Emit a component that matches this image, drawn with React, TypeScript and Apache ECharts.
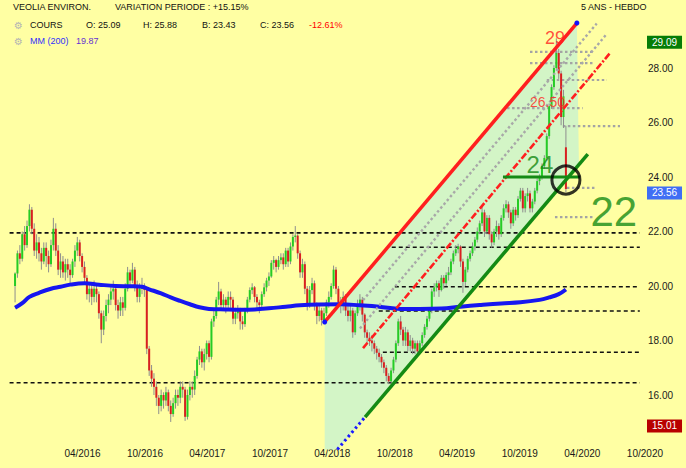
import React, { useEffect, useRef } from 'react';
import * as echarts from 'echarts';

const DAY = 86400000;
const WEEK = 7 * DAY;
const t = (s: string) => Date.parse(s + 'T00:00:00Z');

const FIRST_WEEK = t('2015-09-17');
const X_MIN = t('2015-08-04');
const X_MAX = t('2020-10-07');

// weekly candles: [open, close, low, high]
const OHLC: number[][] = [
  [20.0, 20.46, 19.4, 20.5], [20.46, 21.2, 20.3, 21.3], [21.2, 21.0, 20.8, 21.5], [21.0, 21.9, 20.9, 22.0],
  [21.9, 21.5, 21.3, 22.2], [21.5, 22.2, 21.4, 22.4], [22.2, 22.8, 22.0, 23.0], [22.8, 22.1, 21.9, 22.9],
  [22.1, 21.3, 21.1, 22.3], [21.3, 21.6, 21.0, 21.9], [21.6, 21.2, 20.9, 21.8], [21.2, 20.9, 20.6, 21.4],
  [20.9, 21.4, 20.8, 21.6], [21.4, 21.1, 20.7, 21.6], [21.1, 20.8, 20.5, 21.3], [20.8, 21.5, 20.7, 21.7],
  [21.5, 22.1, 21.3, 22.5], [22.1, 21.3, 21.1, 22.3], [21.3, 20.6, 20.4, 21.5], [20.6, 20.9, 20.3, 21.2],
  [20.9, 20.5, 20.3, 21.1], [20.5, 20.8, 20.2, 21.0], [20.8, 20.6, 20.3, 21.0], [20.6, 20.4, 20.1, 20.8],
  [20.4, 20.9, 20.3, 21.0], [20.9, 21.3, 20.7, 21.5], [21.3, 21.6, 21.1, 21.8], [21.6, 21.1, 20.9, 21.7],
  [21.1, 20.7, 20.5, 21.2], [20.7, 20.3, 20.1, 20.9], [20.3, 19.7, 19.5, 20.4], [19.7, 19.9, 19.4, 20.1],
  [19.9, 19.6, 19.3, 20.1], [19.6, 19.9, 19.4, 20.2], [19.9, 19.7, 19.4, 20.1], [19.7, 19.0, 18.8, 19.8],
  [19.0, 18.4, 17.9, 19.1], [18.4, 18.9, 18.2, 19.1], [18.9, 19.3, 18.7, 19.5], [19.3, 19.5, 19.0, 19.7],
  [19.5, 19.8, 19.3, 20.0], [19.8, 19.9, 19.5, 20.2], [19.9, 19.3, 19.1, 20.0], [19.3, 19.1, 18.8, 19.5],
  [19.1, 19.4, 18.9, 19.6], [19.4, 19.2, 18.9, 19.6], [19.2, 19.9, 19.1, 20.1], [19.9, 20.5, 19.8, 20.7],
  [20.5, 20.2, 20.0, 20.6], [20.2, 20.6, 20.1, 20.85], [20.6, 20.0, 19.8, 20.7], [20.0, 19.6, 19.4, 20.2],
  [19.6, 19.9, 19.4, 20.1], [19.9, 20.0, 19.7, 20.3], [20.0, 19.85, 19.6, 20.1], [19.85, 17.7, 17.5, 19.95],
  [17.7, 16.9, 16.7, 17.8], [16.9, 16.6, 16.3, 17.1], [16.6, 16.3, 16.0, 16.8], [16.3, 15.9, 15.6, 16.5],
  [15.9, 15.6, 15.3, 16.0], [15.6, 16.0, 15.4, 16.2], [16.0, 15.8, 15.5, 16.1], [15.8, 16.1, 15.6, 16.3],
  [16.1, 15.6, 15.4, 16.2], [15.6, 15.3, 15.01, 15.8], [15.3, 15.7, 15.2, 15.9], [15.7, 16.0, 15.5, 16.2],
  [16.0, 15.9, 15.6, 16.2], [15.9, 16.3, 15.7, 16.5], [16.3, 16.2, 15.9, 16.5], [16.2, 15.2, 15.05, 16.3],
  [15.2, 16.0, 15.1, 16.2], [16.0, 16.3, 15.8, 16.5], [16.3, 16.2, 15.9, 16.5], [16.2, 16.7, 16.0, 16.9],
  [16.7, 17.3, 16.6, 17.4], [17.3, 17.6, 17.1, 17.8], [17.6, 17.2, 17.0, 17.7], [17.2, 17.5, 16.9, 17.7],
  [17.5, 17.9, 17.3, 18.0], [17.9, 17.4, 17.2, 18.0], [17.4, 18.7, 17.3, 18.8], [18.7, 18.9, 18.5, 19.1],
  [18.9, 19.5, 18.8, 19.6], [19.5, 19.8, 19.3, 20.15], [19.8, 19.3, 19.1, 19.9], [19.3, 19.5, 19.1, 19.7],
  [19.5, 19.3, 19.0, 19.6], [19.3, 19.6, 19.1, 19.8], [19.6, 19.5, 19.2, 19.8], [19.5, 18.8, 18.6, 19.6],
  [18.8, 19.0, 18.6, 19.2], [19.0, 19.1, 18.8, 19.3], [19.1, 18.7, 18.4, 19.2], [18.7, 18.6, 18.4, 18.9],
  [18.6, 19.1, 18.5, 19.2], [19.1, 19.5, 19.0, 19.6], [19.5, 19.85, 19.4, 19.95], [19.85, 19.95, 19.7, 20.1],
  [19.95, 19.6, 19.4, 20.0], [19.6, 19.4, 19.2, 19.7], [19.4, 19.3, 19.0, 19.5], [19.3, 19.7, 19.2, 19.8],
  [19.7, 19.95, 19.6, 20.1], [19.95, 20.2, 19.8, 20.3], [20.2, 20.35, 20.0, 20.5], [20.35, 20.85, 20.3, 20.95],
  [20.85, 20.95, 20.6, 21.1], [20.95, 20.7, 20.5, 21.0], [20.7, 20.95, 20.6, 21.1], [20.95, 21.05, 20.8, 21.2],
  [21.05, 20.8, 20.6, 21.2], [20.8, 21.3, 20.7, 21.4], [21.3, 20.9, 20.7, 21.4], [20.9, 21.45, 20.8, 21.6],
  [21.45, 21.8, 21.3, 21.9], [21.8, 21.85, 21.6, 22.2], [21.85, 21.2, 21.0, 21.9], [21.2, 20.5, 20.3, 21.3],
  [20.5, 20.8, 20.3, 21.0], [20.8, 19.9, 19.7, 20.9], [19.9, 19.3, 19.1, 20.0], [19.3, 19.85, 19.2, 20.0],
  [19.85, 20.1, 19.7, 20.3], [20.1, 19.3, 19.1, 20.2], [19.3, 18.9, 18.6, 19.4], [18.9, 19.1, 18.7, 19.3],
  [19.1, 18.75, 18.55, 19.2], [18.75, 19.0, 18.6, 19.2], [19.0, 19.4, 18.9, 19.5], [19.4, 19.6, 19.2, 19.8],
  [19.6, 20.0, 19.5, 20.1], [20.0, 20.6, 19.9, 20.75], [20.6, 19.9, 19.7, 20.7], [19.9, 19.4, 19.2, 20.0],
  [19.4, 19.3, 19.0, 19.6], [19.3, 19.6, 19.1, 19.8], [19.6, 19.1, 18.9, 19.7], [19.1, 18.9, 18.7, 19.3],
  [18.9, 19.1, 18.7, 19.3], [19.1, 18.3, 18.1, 19.2], [18.3, 19.0, 18.2, 19.1], [19.0, 19.3, 18.9, 19.5],
  [19.3, 19.5, 19.1, 19.7], [19.5, 18.95, 18.7, 19.6], [18.95, 18.3, 18.1, 19.0], [18.3, 18.1, 17.9, 18.4],
  [18.1, 18.0, 17.8, 18.3], [18.0, 17.9, 17.6, 18.2], [17.9, 17.7, 17.5, 18.0], [17.7, 17.55, 17.3, 17.8],
  [17.55, 17.4, 17.2, 17.7], [17.4, 17.2, 17.0, 17.5], [17.2, 17.0, 16.8, 17.3], [17.0, 16.7, 16.5, 17.1],
  [16.7, 16.5, 16.4, 16.8], [16.5, 16.9, 16.45, 17.0], [16.9, 17.3, 16.8, 17.4], [17.3, 17.9, 17.2, 18.0],
  [17.9, 18.7, 17.8, 18.8], [18.7, 18.4, 18.2, 18.9], [18.4, 18.0, 17.8, 18.5], [18.0, 18.3, 17.8, 18.5],
  [18.3, 17.8, 17.6, 18.4], [17.8, 18.0, 17.6, 18.2], [18.0, 17.7, 17.5, 18.1], [17.7, 17.9, 17.5, 18.0],
  [17.9, 17.6, 17.45, 18.0], [17.6, 17.9, 17.5, 18.0], [17.9, 18.2, 17.8, 18.3], [18.2, 18.5, 18.1, 18.6],
  [18.5, 18.8, 18.4, 18.9], [18.8, 19.1, 18.7, 19.2], [19.1, 19.8, 19.0, 19.9], [19.8, 19.95, 19.6, 20.1],
  [19.95, 20.1, 19.8, 20.2], [20.1, 19.85, 19.6, 20.2], [19.85, 20.3, 19.8, 20.4], [20.3, 20.1, 19.9, 20.4],
  [20.1, 20.4, 20.0, 20.5], [20.4, 20.5, 20.2, 20.7], [20.5, 20.9, 20.4, 21.0], [20.9, 21.2, 20.8, 21.3],
  [21.2, 21.35, 21.1, 21.5], [21.35, 21.45, 21.2, 21.55], [21.45, 20.9, 20.7, 21.5], [20.9, 20.15, 19.75, 21.0],
  [20.15, 20.6, 20.0, 20.7], [20.6, 21.0, 20.5, 21.1], [21.0, 21.2, 20.9, 21.3], [21.2, 21.45, 21.1, 21.6],
  [21.45, 21.7, 21.3, 21.8], [21.7, 22.0, 21.6, 22.15], [22.0, 22.3, 21.9, 22.4], [22.3, 22.7, 22.2, 22.9],
  [22.7, 22.0, 21.8, 22.8], [22.0, 22.5, 21.9, 22.6], [22.5, 21.9, 21.7, 22.6], [21.9, 21.6, 21.4, 22.0],
  [21.6, 22.0, 21.5, 22.1], [22.0, 22.2, 21.8, 22.4], [22.2, 21.9, 21.7, 22.3], [21.9, 22.5, 21.8, 22.6],
  [22.5, 22.85, 22.4, 23.0], [22.85, 23.0, 22.7, 23.15], [23.0, 22.7, 22.5, 23.1], [22.7, 22.3, 22.1, 22.8],
  [22.3, 22.8, 22.2, 22.9], [22.8, 22.6, 22.4, 22.9], [22.6, 23.2, 22.5, 23.3], [23.2, 23.5, 23.1, 23.6],
  [23.5, 22.85, 22.7, 23.6], [22.85, 23.3, 22.7, 23.4], [23.3, 23.4, 23.1, 23.6], [23.4, 22.85, 22.7, 23.5],
  [22.85, 23.1, 22.7, 23.2], [23.1, 23.5, 23.0, 23.6], [23.5, 23.85, 23.4, 23.95], [23.85, 24.0, 23.7, 24.1],
  [24.0, 24.4, 23.9, 24.5], [24.4, 24.7, 24.3, 24.8], [24.7, 25.5, 24.6, 25.6], [25.5, 26.6, 25.4, 26.7],
  [26.6, 27.3, 26.5, 27.4], [27.3, 28.0, 27.2, 28.1], [28.0, 28.55, 27.9, 29.09], [28.55, 27.8, 27.6, 28.7],
  [27.8, 26.2, 25.9, 27.9], [26.2, 26.96, 25.8, 27.2], [25.09, 23.56, 23.43, 25.88],
];

// MM(200) samples: candle index, value
const MA_WEEK = [0, 3, 6, 10, 15, 19, 23, 29, 35, 42, 48, 53, 56, 61, 65, 69, 73, 77, 81, 88, 94, 100, 106, 113, 119, 127, 136, 144, 152, 161, 169, 178, 186, 194, 203, 211, 219, 223, 227, 230];
const MA_VALUE = [19.2, 19.37, 19.6, 19.75, 19.9, 19.97, 20.05, 20.1, 20.05, 20.0, 19.99, 19.97, 19.88, 19.73, 19.58, 19.45, 19.33, 19.22, 19.16, 19.14, 19.13, 19.14, 19.18, 19.24, 19.29, 19.32, 19.33, 19.29, 19.24, 19.16, 19.16, 19.17, 19.24, 19.3, 19.36, 19.4, 19.49, 19.58, 19.7, 19.87];

const X_LABEL_DATES = ['2016-04-01', '2016-10-01', '2017-04-01', '2017-10-01', '2018-04-01', '2018-10-01', '2019-04-01', '2019-10-01', '2020-04-01', '2020-10-01'];

// horizontal levels: [value, from, to]
const BLACK_LEVELS: [number, string, string][] = [
  [21.95, '2015-09-01', '2020-09-16'],
  [21.42, '2018-09-22', '2020-09-16'],
  [19.97, '2018-10-01', '2020-09-16'],
  [19.08, '2018-08-15', '2020-09-16'],
  [17.57, '2018-08-27', '2020-09-16'],
  [16.45, '2015-09-01', '2020-09-16'],
];
const GREY_LEVELS: [number, string, string][] = [
  [28.59, '2019-10-31', '2020-05-08'],
  [28.18, '2019-10-31', '2020-05-08'],
  [27.56, '2019-12-19', '2020-06-12'],
  [26.53, '2019-08-25', '2020-04-02'],
  [25.87, '2020-02-04', '2020-07-20'],
  [23.6, '2020-02-16', '2020-05-08'],
  [22.53, '2020-01-12', '2020-05-08'],
];

const RED_LINE: [string, number][] = [['2018-03-10', 18.68], ['2020-03-16', 29.65]];
const GREEN_LINE: [string, number][] = [['2018-07-06', 15.19], ['2020-04-17', 24.84]];
const BLUE_DOTTED: [string, number][] = [['2018-04-16', 14.0], ['2018-07-06', 15.19]];
const RED_DASHDOT: [string, number][] = [['2018-06-30', 17.72], ['2020-06-21', 28.55]];
const GREY_1: [string, number][] = [['2018-06-30', 19.48], ['2020-05-13', 29.63]];
const GREY_2: [string, number][] = [['2018-06-21', 18.44], ['2020-06-12', 29.26]];
const SUPPORT_24: [string, number][] = [['2019-08-13', 24.0], ['2020-03-25', 24.0]];
const CHANNEL_FILL: [string, number][] = [
  ['2018-03-10', 18.68], ['2020-03-16', 29.65], ['2020-03-22', 24.45],
  ['2018-07-06', 15.19], ['2018-04-16', 14.0], ['2018-03-10', 14.0],
];

const NOTE_TEXTS = ['29', '26.50', '24', '22'];
const NOTE_AT: [string, number][] = [['2020-01-12', 29.1], ['2019-12-21', 26.75], ['2019-11-29', 24.45], ['2020-07-02', 22.72]];
const CIRCLE_AT: [string, number] = ['2020-02-13', 23.89];

const PRICE_TAGS = [29.09, 23.56, 15.01];

const FONT = '"Liberation Sans", Arial, sans-serif';
const RED = '#ff1f1f';
const DKGREEN = '#148a14';

const pts = (a: [string, number][]) => a.map((p) => [t(p[0]), p[1]]);

function seg(data: number[][], lineStyle: any, z: number, extra: any = {}) {
  return {
    type: 'line', data, symbol: 'none', silent: true, z, lineStyle, animation: false, ...extra,
  };
}

function buildOption() {
  const series: any[] = [];

  series.push({
    type: 'custom',
    z: 1,
    silent: true,
    data: pts(CHANNEL_FILL),
    encode: { x: 0, y: 1 },
    renderItem: (params: any, api: any) => {
      if (params.dataIndex !== 0) return null;
      const points = CHANNEL_FILL.map((p) => api.coord([t(p[0]), p[1]]));
      return { type: 'polygon', shape: { points }, style: { fill: '#d3f5c6' } };
    },
  });

  BLACK_LEVELS.forEach((l) => {
    series.push(seg([[t(l[1]), l[0]], [t(l[2]), l[0]]], { color: '#111', width: 1.6, type: [4, 3] }, 2));
  });
  GREY_LEVELS.forEach((l) => {
    series.push(seg([[t(l[1]), l[0]], [t(l[2]), l[0]]], { color: '#a4a4a4', width: 2.2, type: [2.5, 2.5] }, 2));
  });

  series.push({
    type: 'custom',
    z: 3,
    silent: true,
    data: OHLC.map((r, i) => [FIRST_WEEK + i * WEEK, r[0], r[1], r[2], r[3]]),
    encode: { x: 0, y: [1, 2, 3, 4] },
    renderItem: (params: any, api: any) => {
      const x = api.value(0);
      const o = api.value(1);
      const c = api.value(2);
      const lo = api.value(3);
      const hi = api.value(4);
      const pL = api.coord([x, lo]);
      const pH = api.coord([x, hi]);
      const pO = api.coord([x, o]);
      const pC = api.coord([x, c]);
      const top = Math.min(pO[1], pC[1]);
      const h = Math.max(1, Math.abs(pO[1] - pC[1]));
      return {
        type: 'group',
        children: [
          { type: 'line', shape: { x1: pL[0], y1: pL[1], x2: pH[0], y2: pH[1] }, style: { stroke: '#8e8e8e', lineWidth: 1 } },
          { type: 'rect', shape: { x: pO[0] - 1, y: top, width: 2, height: h }, style: { fill: c >= o ? '#25cc25' : '#d92020' } },
        ],
      };
    },
  });

  series.push({
    type: 'line',
    z: 4,
    silent: true,
    smooth: 0.4,
    symbol: 'none',
    data: MA_WEEK.map((w, i) => [FIRST_WEEK + w * WEEK, MA_VALUE[i]]),
    lineStyle: { color: '#1616f0', width: 4 },
  });

  // invisible carrier for the price tags on the right
  series.push({
    type: 'line',
    z: 20,
    silent: true,
    symbol: 'none',
    data: [],
    markLine: {
      silent: true,
      symbol: 'none',
      animation: false,
      lineStyle: { color: 'rgba(0,0,0,0)', width: 0 },
      label: { show: true, position: 'end', distance: 0, color: '#fff', fontSize: 10, fontFamily: FONT, padding: [2, 5, 1, 5], offset: [0, 4] },
      data: PRICE_TAGS.map((v, i) => ({
        yAxis: v,
        label: { formatter: v.toFixed(2), backgroundColor: ['#067d06', '#3f6ef5', '#b80000'][i], color: '#fff' },
      })),
    },
  });

  series.push(seg(pts(GREY_1), { color: '#a8a8a8', width: 2.4, type: [2.5, 2.5] }, 5));
  series.push(seg(pts(GREY_2), { color: '#a8a8a8', width: 2.4, type: [2.5, 2.5] }, 5));
  series.push(seg(pts(RED_DASHDOT), { color: RED, width: 2.6, type: [7, 2, 2, 2] }, 6));
  series.push(seg(pts(BLUE_DOTTED), { color: '#1a1aff', width: 3, type: [2.5, 3] }, 6));
  series.push(seg(pts(GREEN_LINE), { color: DKGREEN, width: 3.5 }, 6));
  series.push(seg(pts(RED_LINE), { color: RED, width: 3.5 }, 6, {
    symbol: 'circle', symbolSize: 5, showSymbol: true, itemStyle: { color: '#1010ff' },
  }));
  series.push(seg(pts(SUPPORT_24), { color: DKGREEN, width: 3 }, 6));

  series.push({
    type: 'scatter',
    z: 8,
    silent: true,
    symbol: 'circle',
    symbolSize: 28,
    itemStyle: { color: 'rgba(0,0,0,0)', borderColor: '#000', borderWidth: 3 },
    data: [[t(CIRCLE_AT[0]), CIRCLE_AT[1]]],
  });

  const noteColors = [RED, RED, DKGREEN, DKGREEN];
  const noteSizes = [18, 14, 24, 42];
  series.push({
    type: 'scatter',
    z: 9,
    silent: true,
    symbolSize: 1,
    itemStyle: { color: 'rgba(0,0,0,0)' },
    label: { show: true, position: 'inside', fontFamily: FONT },
    data: NOTE_AT.map((p, i) => ({
      value: [t(p[0]), p[1]],
      label: { formatter: NOTE_TEXTS[i], color: noteColors[i], fontSize: noteSizes[i] },
    })),
  });

  const txt = (text: string, x: number, y: number, fill: string, extra: any = {}) => ({
    type: 'text', x, y, silent: true, z: 100,
    style: { text, fill, fontSize: 9, fontFamily: FONT, verticalAlign: 'middle', ...extra },
  });

  return {
    animation: false,
    backgroundColor: '#ffffa3',
    grid: { left: 0, right: 39, top: 13.5, bottom: 18.5, containLabel: false, outerBoundsMode: 'none' },
    xAxis: {
      type: 'value',
      min: X_MIN,
      max: X_MAX,
      splitLine: { show: false },
      axisLine: { show: false },
      axisTick: { show: false },
      axisLabel: {
        customValues: X_LABEL_DATES.map(t),
        margin: -1,
        fontSize: 10,
        fontFamily: FONT,
        color: '#1a1a1a',
        formatter: (v: number) => {
          const d = new Date(v);
          return String(d.getUTCMonth() + 1).padStart(2, '0') + '/' + d.getUTCFullYear();
        },
      },
    },
    yAxis: {
      type: 'value',
      position: 'right',
      min: 14,
      max: 30,
      interval: 2,
      splitLine: { show: false },
      axisLine: { show: false },
      axisTick: { show: false },
      axisLabel: {
        margin: 1,
        fontSize: 10,
        fontFamily: FONT,
        color: '#1a1a1a',
        showMinLabel: false,
        showMaxLabel: false,
        formatter: (v: number) => v.toFixed(2),
      },
    },
    graphic: [
      txt('VEOLIA ENVIRON.', 13, 7, '#111'),
      txt('VARIATION PERIODE : +15.15%', 115, 7, '#111'),
      txt('5 ANS - HEBDO', 581, 7, '#111'),
      txt('\u2699', 14, 25, '#b4b4b4', { fontFamily: '"DejaVu Sans"', fontSize: 10 }),
      txt('COURS', 30, 25, '#111'),
      txt('O: 25.09', 86, 25, '#111'),
      txt('H: 25.88', 143, 25, '#111'),
      txt('B: 23.43', 202, 25, '#111'),
      txt('C: 23.56', 260, 25, '#111'),
      txt('-12.61%', 309, 25, '#ff0000'),
      txt('\u2699', 14, 41, '#b4b4b4', { fontFamily: '"DejaVu Sans"', fontSize: 10 }),
      txt('MM (200)', 30, 41, '#3030ff'),
      txt('19.87', 76, 41, '#6432d2'),
    ],
    series,
  };
}

export default function App() {
  const ref = useRef<HTMLDivElement>(null);
  useEffect(() => {
    if (!ref.current) return;
    const chart = echarts.init(ref.current, undefined, { renderer: 'svg' });
    chart.setOption(buildOption() as any);
    return () => chart.dispose();
  }, []);
  return <div ref={ref} style={{ position: 'fixed', left: 0, top: 0, width: 686, height: 468 }} />;
}
